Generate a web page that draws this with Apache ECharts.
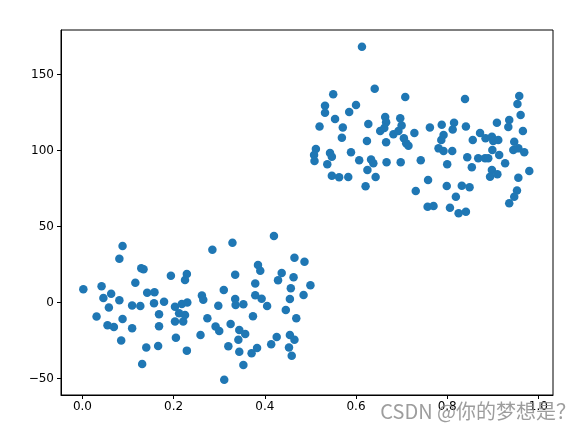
<!DOCTYPE html>
<html>
<head>
<meta charset="utf-8">
<script src="https://cdn.jsdelivr.net/npm/echarts@6/dist/echarts.min.js"></script>
<style>html,body{margin:0;padding:0;background:#fff}#c{width:582px;height:428px}</style>
</head>
<body>
<div id="c"></div>
<script>
// Left group (x < 0.5)
const leftX = [0.002,0.031,0.042,0.046,0.055,0.058,0.063,0.069,0.081,0.088,0.081,0.088,0.085,0.109,0.116,0.109,0.127,0.129,0.134,0.142,0.158,0.157,0.179,0.168,0.168,0.140,0.166,0.131,0.194,0.229,0.225,0.203,0.218,0.230,0.221,0.212,0.225,0.203,0.205,0.229,0.262,0.265,0.259,0.285,0.310,0.329,0.335,0.335,0.336,0.353,0.298,0.274,0.292,0.300,0.325,0.344,0.357,0.342,0.320,0.344,0.353,0.311,0.374,0.379,0.379,0.393,0.385,0.390,0.405,0.383,0.371,0.414,0.426,0.420,0.429,0.437,0.446,0.455,0.457,0.463,0.465,0.469,0.455,0.465,0.453,0.459,0.485,0.487,0.500];
const leftY = [8.7,-9.3,10.7,3.0,-15.0,-3.3,5.8,-16.1,28.8,37.2,1.4,-10.9,-25.1,-2.0,13.0,-17.0,-2.3,22.5,21.8,6.4,6.7,-0.5,0.5,-7.8,-15.7,-29.7,-28.6,-40.5,17.6,18.8,14.8,-2.8,-1.0,-0.1,-12.6,-7.1,-8.2,-12.6,-23.2,-31.7,4.6,1.8,-21.4,34.7,8.2,39.3,18.3,2.3,-1.6,-1.2,-2.1,-10.4,-15.9,-18.8,-14.1,-18.1,-20.7,-24.5,-28.8,-32.4,-41.1,-50.8,-9.1,12.4,4.7,2.5,24.7,20.9,-2.3,-29.9,-33.4,-27.5,-22.7,43.8,14.6,19.4,-4.9,2.3,9.3,16.6,29.5,-10.4,-21.4,-24.5,-29.7,-35.0,4.9,26.8,11.3];
// Right group (x >= 0.5)
const rightX = [0.613,0.641,0.550,0.708,0.532,0.532,0.600,0.585,0.554,0.520,0.571,0.627,0.664,0.666,0.653,0.662,0.697,0.700,0.728,0.569,0.682,0.693,0.624,0.666,0.705,0.710,0.715,0.512,0.508,0.509,0.543,0.547,0.537,0.589,0.607,0.633,0.638,0.625,0.667,0.698,0.742,0.547,0.563,0.583,0.643,0.621,0.731,0.758,0.757,0.770,0.839,0.958,0.954,0.961,0.762,0.788,0.815,0.812,0.841,0.909,0.936,0.934,0.966,0.872,0.792,0.787,0.781,0.792,0.811,0.856,0.884,0.898,0.901,0.912,0.947,0.945,0.956,0.969,0.899,0.914,0.927,0.844,0.868,0.883,0.890,0.854,0.800,0.898,0.894,0.910,0.980,0.956,0.799,0.832,0.849,0.953,0.947,0.936,0.819,0.806,0.825,0.841];
const rightY = [168.3,140.7,137.0,135.2,129.5,124.9,129.9,125.3,120.7,115.8,115.1,117.4,122.0,118.6,112.8,114.8,121.2,116.4,111.5,108.4,110.7,112.8,106.3,105.4,108.0,104.7,103.2,101.0,97.0,93.1,98.4,95.9,90.9,98.8,93.6,94.0,91.6,87.2,92.2,92.2,93.6,83.4,82.4,82.6,82.6,76.4,73.4,80.6,63.0,63.5,133.9,135.9,130.6,123.4,115.1,117.0,118.3,113.8,115.8,118.3,120.1,115.5,112.8,111.5,110.2,106.9,101.4,99.7,99.7,106.9,108.0,109.1,106.3,106.9,105.8,100.3,101.4,98.8,100.3,97.0,91.6,95.5,94.9,94.9,94.9,88.9,90.9,87.2,82.8,84.3,86.5,82.1,76.6,76.8,75.8,73.6,69.6,65.3,69.6,62.4,58.7,59.7];
const xTicks = [0.0, 0.2, 0.4, 0.6, 0.8, 1.0];
const yTicks = [-50, 0, 50, 100, 150];

const points = leftX.map((x, i) => [x, leftY[i]]).concat(rightX.map((x, i) => [x, rightY[i]]));

const chart = echarts.init(document.getElementById('c'), null, {renderer: 'canvas'});
const labelStyle = {color: '#000', fontSize: 12, fontFamily: 'DejaVu Sans'};
chart.setOption({
  animation: false,
  grid: {left: 61, top: 30, right: 29, bottom: 33, show: true, borderColor: '#000', borderWidth: 1},
  xAxis: {
    type: 'value', min: -0.047, max: 1.032,
    axisLine: {show: true, onZero: false, lineStyle: {color: '#000'}},
    axisTick: {show: true, length: 4, customValues: xTicks, lineStyle: {color: '#000'}},
    axisLabel: Object.assign({margin: 6, customValues: xTicks, formatter: v => v.toFixed(1)}, labelStyle),
    splitLine: {show: false}
  },
  yAxis: {
    type: 'value', min: -60.9, max: 179.3,
    axisLine: {show: true, onZero: false, lineStyle: {color: '#000'}},
    axisTick: {show: true, length: 4, customValues: yTicks, lineStyle: {color: '#000'}},
    axisLabel: Object.assign({margin: 7, customValues: yTicks, formatter: v => v < 0 ? '\u2212' + Math.abs(v) : String(v)}, labelStyle),
    splitLine: {show: false}
  },
  series: [{
    type: 'scatter', data: points, symbolSize: 8.5,
    itemStyle: {color: '#1f77b4', opacity: 1}
  }],
  graphic: [{
    type: 'text', x: 576, y: 411, z: 100,
    style: {text: 'CSDN @你的梦想是？', fill: 'rgba(140,140,140,0.85)', fontSize: 20, fontFamily: 'Noto Sans CJK SC', align: 'right', verticalAlign: 'middle'}
  }]
});
</script>
</body>
</html>
